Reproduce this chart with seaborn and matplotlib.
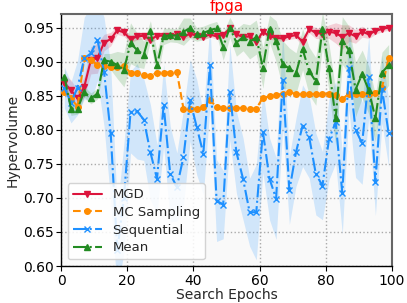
import numpy as np
import pandas as pd
import matplotlib
matplotlib.use("Agg")
import matplotlib.pyplot as plt
import seaborn as sns

epochs = list(range(1, 100, 2))

mgd = [0.869, 0.858, 0.846, 0.863, 0.902, 0.905, 0.928, 0.933, 0.946, 0.943,
       0.933, 0.937, 0.938, 0.932, 0.938, 0.938, 0.937, 0.940, 0.936, 0.941,
       0.938, 0.936, 0.940, 0.937, 0.939, 0.949, 0.940, 0.936, 0.937, 0.929,
       0.944, 0.937, 0.935, 0.934, 0.937, 0.939, 0.929, 0.948, 0.942, 0.941,
       0.944, 0.942, 0.936, 0.942, 0.937, 0.944, 0.940, 0.945, 0.948, 0.950]
mgd_sd = [0.012, 0.015, 0.012, 0.015, 0.020, 0.022, 0.012, 0.010, 0.006, 0.006,
          0.005, 0.005, 0.005, 0.005, 0.005, 0.004, 0.004, 0.004, 0.004, 0.004,
          0.004, 0.004, 0.004, 0.004, 0.004, 0.004, 0.004, 0.004, 0.004, 0.004,
          0.004, 0.004, 0.004, 0.004, 0.004, 0.005, 0.006, 0.006, 0.008, 0.008,
          0.010, 0.015, 0.018, 0.012, 0.010, 0.008, 0.006, 0.005, 0.004, 0.004]

mc = [0.856, 0.846, 0.834, 0.905, 0.902, 0.895, 0.893, 0.892, 0.892, 0.893,
      0.884, 0.883, 0.880, 0.879, 0.884, 0.884, 0.884, 0.885, 0.831, 0.831,
      0.831, 0.833, 0.843, 0.834, 0.832, 0.832, 0.832, 0.832, 0.831, 0.831,
      0.847, 0.849, 0.851, 0.853, 0.856, 0.852, 0.852, 0.853, 0.852, 0.853,
      0.853, 0.851, 0.845, 0.853, 0.853, 0.853, 0.853, 0.854, 0.862, 0.905]

seq = [0.862, 0.840, 0.862, 0.905, 0.912, 0.932, 0.885, 0.795, 0.623, 0.700,
       0.826, 0.827, 0.815, 0.767, 0.728, 0.836, 0.735, 0.716, 0.760, 0.843,
       0.804, 0.765, 0.895, 0.696, 0.690, 0.855, 0.767, 0.728, 0.679, 0.679,
       0.797, 0.728, 0.699, 0.873, 0.711, 0.767, 0.806, 0.789, 0.735, 0.718,
       0.787, 0.811, 0.707, 0.890, 0.800, 0.780, 0.878, 0.724, 0.860, 0.795]
seq_sd = [0.03, 0.03, 0.04, 0.06, 0.07, 0.06, 0.08, 0.10, 0.06, 0.08,
          0.06, 0.07, 0.06, 0.07, 0.05, 0.06, 0.07, 0.05, 0.07, 0.06,
          0.07, 0.06, 0.06, 0.06, 0.05, 0.07, 0.06, 0.06, 0.05, 0.07,
          0.06, 0.06, 0.06, 0.07, 0.05, 0.05, 0.06, 0.06, 0.06, 0.05,
          0.06, 0.06, 0.06, 0.06, 0.07, 0.06, 0.06, 0.05, 0.05, 0.05]

mean = [0.878, 0.831, 0.831, 0.856, 0.846, 0.853, 0.902, 0.900, 0.895, 0.888,
        0.927, 0.917, 0.910, 0.945, 0.895, 0.937, 0.939, 0.938, 0.944, 0.949,
        0.940, 0.942, 0.946, 0.949, 0.922, 0.950, 0.928, 0.936, 0.929, 0.936,
        0.891, 0.948, 0.930, 0.896, 0.890, 0.883, 0.918, 0.886, 0.871, 0.948,
        0.890, 0.817, 0.931, 0.917, 0.859, 0.882, 0.858, 0.817, 0.884, 0.895]
mean_sd = [0.012, 0.010, 0.008, 0.008, 0.008, 0.008, 0.010, 0.012, 0.020, 0.025,
           0.030, 0.025, 0.020, 0.015, 0.020, 0.012, 0.010, 0.010, 0.020, 0.015,
           0.010, 0.010, 0.010, 0.010, 0.020, 0.015, 0.020, 0.020, 0.025, 0.025,
           0.030, 0.020, 0.030, 0.035, 0.030, 0.030, 0.030, 0.035, 0.035, 0.025,
           0.035, 0.040, 0.035, 0.035, 0.040, 0.035, 0.035, 0.035, 0.030, 0.030]

labels = ["MGD", "MC Sampling", "Sequential", "Mean"]
colors = ["#dc143c", "#ff8c00", "#1e90ff", "#228b22"]
styles = ["-", "--", "-.", "-."]
markers = ["v", "o", "x", "^"]

sns.set_style("ticks")
plt.rcParams['font.family'] = ['DejaVu Sans']

fig = plt.figure(figsize=(4.07, 3.03), dpi=100)
ax = fig.add_axes([0.150, 0.122, 0.813, 0.832])
ax.set_facecolor("#f9f9f9")

series = [mgd, mc, seq, mean]
sds = [mgd_sd, None, seq_sd, mean_sd]
for lab, vals, sd, c, ls, mk in zip(labels, series, sds, colors, styles, markers):
    df = pd.DataFrame({"epoch": epochs, "hv": vals})
    sns.lineplot(data=df, x="epoch", y="hv", ax=ax, color=c, linestyle=ls,
                 marker=mk, markersize=4, markeredgewidth=1, markeredgecolor=c,
                 linewidth=1.5, label=lab, zorder=3)
    if sd is not None:
        v = np.array(vals); s = np.array(sd)
        ax.fill_between(epochs, v - s, v + s, color=c, alpha=0.18, linewidth=0, zorder=1)

ax.set_xlim(0, 100)
ax.set_ylim(0.60, 0.97)
ax.set_xticks([0, 20, 40, 60, 80, 100])
ax.set_yticks([0.60, 0.65, 0.70, 0.75, 0.80, 0.85, 0.90, 0.95])
ax.yaxis.set_major_formatter(matplotlib.ticker.FormatStrFormatter('%.2f'))
ax.grid(True, linestyle=":", color="#aaaaaa", linewidth=1)
ax.tick_params(labelsize=10, length=3.5, pad=2, direction="out", colors="black")
ax.set_xlabel("Search Epochs", fontsize=10, labelpad=0)
ax.set_ylabel("Hypervolume", fontsize=10, labelpad=2)
ax.set_title("fpga", color="red", fontsize=11, pad=2)
for side in ["top", "right"]:
    ax.spines[side].set_color("#666666")
    ax.spines[side].set_linewidth(1.5)
for side in ["left", "bottom"]:
    ax.spines[side].set_color("black")
    ax.spines[side].set_linewidth(1.0)

leg = ax.legend(loc="lower left", fontsize=9.5, frameon=True, handlelength=2.2,
                borderpad=0.4, labelspacing=0.35)
leg.get_frame().set_edgecolor("#cccccc")
leg.get_frame().set_alpha(0.85)

fig.savefig("out.png", dpi=100)
